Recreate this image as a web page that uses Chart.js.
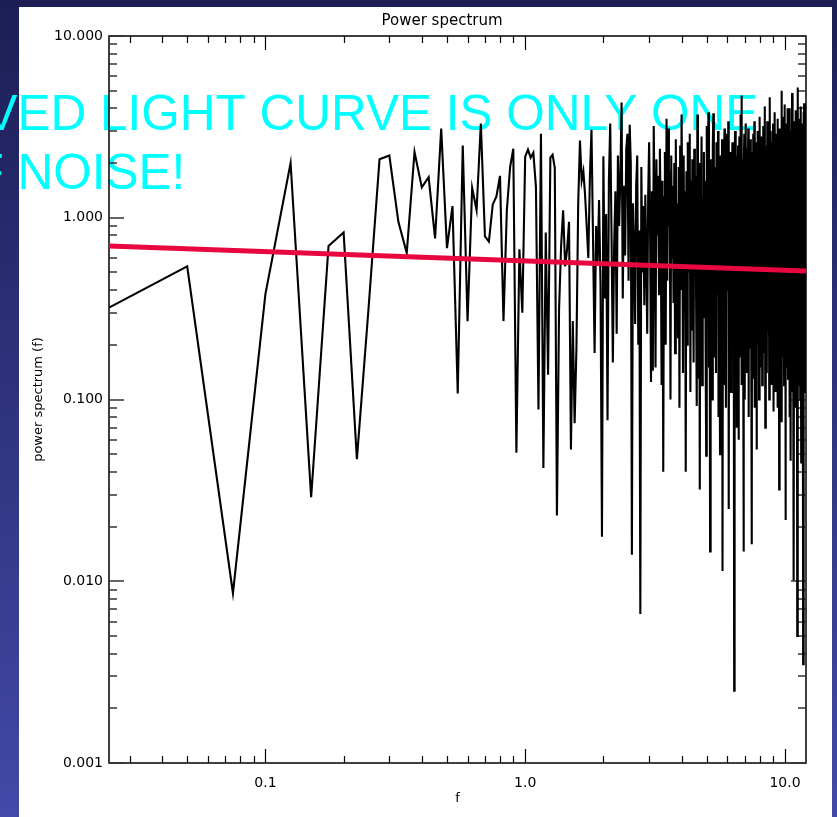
<!DOCTYPE html>
<html>
<head>
<meta charset="utf-8">
<title>Power spectrum</title>
<script src="https://cdn.jsdelivr.net/npm/chart.js@4.4.1/dist/chart.umd.min.js"></script>
<style>
  html, body { margin: 0; padding: 0; background: #1d1f55; overflow: hidden; }
  canvas { display: block; }
</style>
</head>
<body>
<canvas id="spectrum" width="837" height="817"></canvas>
<script>
// periodogram, one value per frequency bin (f = k * freqStep, k = 1..482)
const freqStep = 0.025;
const power = [
  0.32, 0.54, 0.0086, 0.38, 2.0, 0.029, 0.70, 0.83, 0.047, 0.33,
  2.1, 2.2, 0.95, 0.64, 2.3, 1.47, 1.67, 0.77, 3.1, 0.68,
  1.16, 0.108, 2.5, 0.27, 1.46, 1.1, 3.3, 0.79, 0.74, 1.18,
  1.31, 1.7, 0.27, 1.1, 1.9, 2.4, 0.051, 0.67, 0.30, 2.17,
  2.37, 2.14, 2.28, 1.48, 0.088, 2.9, 0.042, 0.83, 0.137, 2.14,
  2.22, 1.88, 0.023, 0.31, 0.7, 1.1, 0.54, 0.67, 0.95, 0.053,
  0.27, 0.074, 0.19, 1.2, 2.66, 1.6, 1.8, 1.34, 0.9, 0.6,
  1.7, 3.05, 0.75, 0.18, 0.9, 0.55, 1.25, 0.42, 0.0176, 2.18,
  0.36, 1.05, 0.077, 1.6, 3.3, 0.8, 0.16, 0.7, 1.4, 0.23,
  2.2, 0.9, 1.7, 4.3, 0.36, 1.5, 0.62, 2.4, 2.9, 0.45,
  3.25, 2.0, 0.014, 1.2, 0.7, 0.26, 1.5, 2.2, 0.2, 0.85,
  0.0066, 1.9, 0.5, 1.16, 0.33, 1.34, 0.6, 0.23, 1.34, 2.6,
  0.9, 0.125, 1.4, 0.144, 3.2, 1.1, 0.15, 2.1, 0.8, 1.7,
  0.38, 2.4, 1.0, 0.12, 1.6, 0.04, 1.3, 2.3, 0.2, 3.5,
  0.45, 3.1, 0.9, 1.8, 0.1, 2.2, 0.6, 1.5, 0.34, 2.0,
  0.18, 2.7, 0.5, 1.2, 0.22, 1.9, 0.09, 2.5, 0.4, 3.7,
  1.1, 0.14, 2.2, 0.3, 1.4, 0.04, 1.8, 0.2, 2.6, 0.5,
  1.3, 2.9, 0.11, 1.6, 0.24, 2.1, 1.0, 0.16, 2.4, 0.8,
  1.7, 0.35, 0.092, 3.7, 1.2, 0.13, 2.0, 0.032, 1.5, 0.9,
  2.8, 0.12, 1.3, 0.7, 2.3, 0.28, 1.6, 0.19, 0.049, 3.2,
  1.1, 2.0, 3.8, 0.15, 1.4, 0.0146, 2.1, 0.6, 1.7, 0.1,
  2.5, 3.76, 0.9, 0.45, 0.17, 1.9, 0.14, 2.6, 1.2, 0.38,
  3.0, 0.08, 1.5, 0.25, 0.05, 2.2, 1.0, 0.18, 2.7, 0.0114,
  1.8, 0.12, 1.3, 3.1, 0.32, 2.0, 0.09, 1.6, 2.9, 0.4,
  1.1, 3.4, 0.025, 1.4, 0.15, 2.3, 0.9, 0.11, 2.0, 1.2,
  2.6, 0.2, 1.7, 0.8, 0.0025, 1.9, 3.0, 0.13, 1.3, 2.2,
  0.07, 1.5, 0.35, 2.5, 0.06, 1.1, 2.8, 0.17, 1.6, 3.7,
  0.9, 4.7, 0.12, 1.4, 2.1, 0.3, 0.0146, 1.8, 2.9, 0.1,
  1.2, 3.3, 0.3, 1.7, 0.14, 2.4, 0.55, 1.5, 3.1, 0.08,
  2.0, 0.85, 0.19, 2.7, 0.45, 1.8, 0.11, 0.016, 2.3, 1.1,
  0.13, 2.9, 1.6, 0.6, 3.4, 0.09, 2.1, 0.33, 1.4, 2.6,
  0.053, 1.9, 0.2, 3.0, 0.5, 1.2, 2.4, 0.1, 1.7, 3.6,
  0.8, 0.15, 0.45, 2.2, 1.0, 2.8, 0.12, 1.5, 0.13, 3.2,
  1.1, 0.18, 2.0, 0.9, 4.1, 0.07, 1.8, 0.3, 2.5, 1.3,
  0.14, 3.4, 0.95, 1.6, 0.24, 2.7, 1.2, 0.1, 2.0, 4.6,
  0.2, 1.4, 3.0, 0.35, 1.9, 0.12, 2.6, 1.1, 0.45, 3.3,
  0.086, 1.7, 2.2, 0.16, 1.3, 3.8, 0.9, 0.11, 2.4, 1.5,
  0.19, 2.9, 0.4, 1.8, 3.5, 0.09, 0.55, 2.1, 1.2, 0.032,
  3.1, 0.14, 1.6, 0.25, 2.6, 1.4, 0.1, 5.0, 0.075, 1.9,
  2.7, 0.17, 1.1, 3.6, 0.9, 1.7, 0.12, 2.3, 4.2, 0.2,
  1.3, 0.0217, 2.8, 1.0, 0.15, 3.3, 1.5, 0.28, 2.0, 4.0,
  0.13, 1.2, 0.4, 2.6, 1.8, 0.08, 3.7, 4.0, 0.95, 0.18,
  0.046, 2.2, 1.4, 3.0, 0.11, 4.85, 1.1, 0.2, 2.5, 0.35,
  1.6, 3.4, 0.0101, 1.9, 0.14, 2.9, 0.45, 1.3, 3.9, 0.09,
  0.6, 2.2, 1.5, 0.16, 3.2, 0.005, 1.7, 0.9, 5.2, 0.12,
  2.4, 1.2, 0.19, 3.5, 0.32, 1.9, 2.8, 0.1, 1.4, 4.1,
  0.8, 0.045, 2.1, 1.1, 3.3, 0.13, 1.6, 2.7, 0.9, 0.0035,
  1.3, 3.8, 0.15, 4.27, 1.9, 0.38, 2.4, 0.11, 3.1, 0.7,
  1.5, 4.27
];

// straight power-law fit, given by its two end points
const fitFreq = [0.025, 12.05];
const fitPower = [0.70, 0.51];

const xRange = [0.025, 12.05];
const yRange = [0.001, 10];
const xMajor = [0.1, 1, 10];
const xMajorLabels = ['0.1', '1.0', '10.0'];
const yMajor = [0.001, 0.01, 0.1, 1, 10];
const yMajorLabels = ['0.001', '0.010', '0.100', '1.000', '10.000'];

const bannerLines = ['VED LIGHT CURVE IS ONLY ONE', 'F NOISE!'];

// major decades plus the 2..9 minor steps that fall inside [min, max]
function logTicks(min, max) {
  const out = [];
  for (let e = Math.floor(Math.log10(min)); e <= Math.ceil(Math.log10(max)); e++) {
    for (let m = 1; m <= 9; m++) {
      const v = m * Math.pow(10, e);
      if (v >= min * 0.999 && v <= max * 1.001) out.push(v);
    }
  }
  return out;
}

const pick = (list, labels) => v => {
  const i = list.findIndex(m => Math.abs(m - v) / m < 1e-6);
  return i >= 0 ? labels[i] : '';
};
const isMajor = (list, v) => list.some(m => Math.abs(m - v) / m < 1e-6);

Chart.defaults.font.family = '"DejaVu Sans", Verdana, sans-serif';
Chart.defaults.color = '#000';

const slide = {
  id: 'slide',
  beforeDraw(chart) {
    const { ctx, width, height } = chart;
    const g = ctx.createLinearGradient(0, 0, 0, height);
    g.addColorStop(0, '#1c1e54');
    g.addColorStop(1, '#4249a7');
    ctx.save();
    ctx.fillStyle = g;
    ctx.fillRect(0, 0, width, height);
    ctx.fillStyle = '#ffffff';
    ctx.fillRect(19, 7, 813, height - 7);
    ctx.restore();
  },
  beforeDatasetsDraw(chart) {
    const { ctx, chartArea: a, scales: { x, y } } = chart;
    ctx.save();

    // cyan banner text running in from the left edge
    ctx.font = '49.5px "Liberation Sans", Arial, sans-serif';
    ctx.fillStyle = '#00ffff';
    ctx.textBaseline = 'alphabetic';
    ctx.textAlign = 'left';
    ctx.fillText(bannerLines[0], 17.5 - ctx.measureText('V').width, 130);
    ctx.fillText(bannerLines[1], 17.5 - ctx.measureText('F ').width, 189);

    // box and inward ticks on all four sides
    ctx.strokeStyle = '#000';
    ctx.lineWidth = 1.5;
    ctx.strokeRect(a.left, a.top, a.right - a.left, a.bottom - a.top);
    ctx.lineWidth = 1.2;
    ctx.beginPath();
    x.ticks.forEach(t => {
      const px = Math.round(x.getPixelForValue(t.value)) + 0.5;
      const len = isMajor(xMajor, t.value) ? 14 : 7;
      ctx.moveTo(px, a.bottom); ctx.lineTo(px, a.bottom - len);
      ctx.moveTo(px, a.top); ctx.lineTo(px, a.top + len);
    });
    ctx.stroke();
    ctx.strokeStyle = '#333';
    ctx.lineWidth = 1.6;
    ctx.beginPath();
    y.ticks.forEach(t => {
      const py = Math.round(y.getPixelForValue(t.value));
      const len = isMajor(yMajor, t.value) ? 15 : 8;
      ctx.moveTo(a.left, py); ctx.lineTo(a.left + len, py);
      ctx.moveTo(a.right, py); ctx.lineTo(a.right - len, py);
    });
    ctx.stroke();

    ctx.fillStyle = '#000';
    ctx.font = '15px "DejaVu Sans", Verdana, sans-serif';
    ctx.textAlign = 'center';
    ctx.fillText('Power spectrum', 442, 25);
    ctx.restore();
  }
};

const spectrumPoints = power.map((p, i) => ({ x: (i + 1) * freqStep, y: p }));
const fitPoints = fitFreq.map((f, i) => ({ x: f, y: fitPower[i] }));

new Chart(document.getElementById('spectrum'), {
  type: 'line',
  data: {
    datasets: [
      {
        label: 'fit',
        data: fitPoints,
        borderColor: '#e8073f',
        borderWidth: 5,
        pointRadius: 0,
        order: 0
      },
      {
        label: 'power spectrum',
        data: spectrumPoints,
        borderColor: '#000',
        borderWidth: 2.1,
        pointRadius: 0,
        tension: 0,
        order: 1
      }
    ]
  },
  options: {
    responsive: false,
    animation: false,
    devicePixelRatio: 1,
    layout: { padding: { top: 36, right: 31, bottom: 0, left: 0 } },
    plugins: { legend: { display: false }, tooltip: { enabled: false } },
    scales: {
      x: {
        type: 'logarithmic',
        min: xRange[0],
        max: xRange[1],
        bounds: 'data',
        afterBuildTicks: s => { s.ticks = logTicks(xRange[0], xRange[1]).map(v => ({ value: v })); },
        afterFit: s => { s.height = 54; },
        grid: { display: false, drawTicks: false },
        border: { display: false },
        ticks: {
          autoSkip: false,
          maxRotation: 0,
          padding: 12,
          font: { size: 14 },
          callback: pick(xMajor, xMajorLabels)
        },
        title: { display: true, text: 'f', font: { size: 13 }, padding: { top: 0, bottom: 11 } }
      },
      y: {
        type: 'logarithmic',
        min: yRange[0],
        max: yRange[1],
        bounds: 'data',
        afterBuildTicks: s => { s.ticks = logTicks(yRange[0], yRange[1]).map(v => ({ value: v })); },
        afterFit: s => { s.width = 109; },
        grid: { display: false, drawTicks: false },
        border: { display: false },
        ticks: {
          autoSkip: false,
          padding: 6,
          font: { size: 14 },
          callback: pick(yMajor, yMajorLabels)
        },
        title: { display: true, text: 'power spectrum (f)', font: { size: 13 }, padding: { top: 31, bottom: 0 } }
      }
    }
  },
  plugins: [slide]
});
</script>
</body>
</html>
